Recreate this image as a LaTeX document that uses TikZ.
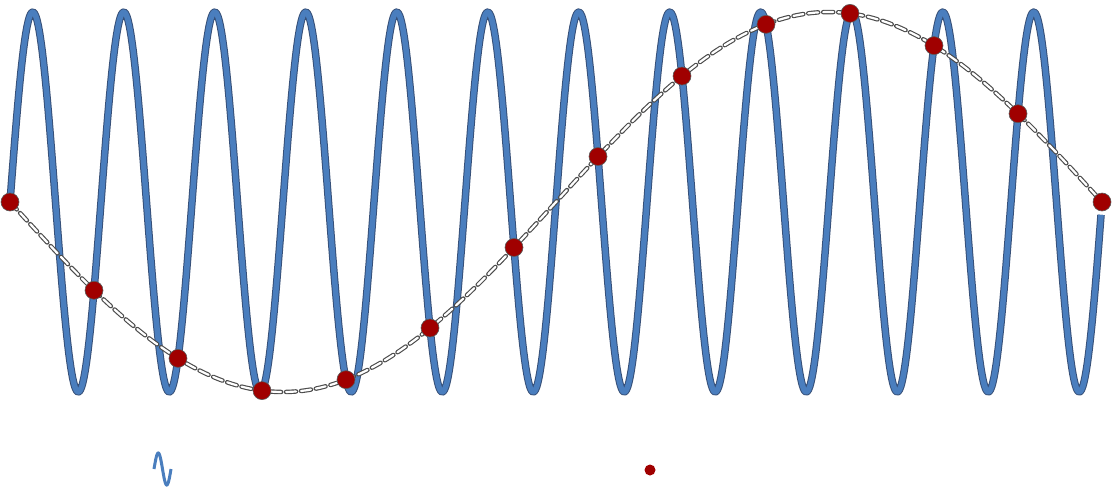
\documentclass[tikz,border=0pt]{standalone}
\usetikzlibrary{calc}
\definecolor{wave}{RGB}{74,126,190}
\definecolor{waveedge}{RGB}{55,80,120}
\definecolor{dotred}{RGB}{160,0,0}
\tikzset{
  sample/.style={circle,fill=dotred,draw=gray!70!black,line width=0.6pt,inner sep=0pt,minimum size=18pt},
  legdot/.style={circle,fill=dotred,inner sep=0pt,minimum size=11pt},
  aliasout/.style={draw=black!70,line width=4.5pt,dash pattern=on 10pt off 5pt,line cap=round},
  aliasin/.style={draw=white,line width=2.2pt,dash pattern=on 10pt off 5pt,line cap=round},
}
\begin{document}
\begin{tikzpicture}[x=1pt,y=-1pt]
\useasboundingbox (0,0) rectangle (1114,490);
% high-frequency signal
\draw[waveedge,line width=7.5pt,line join=round] plot[domain=0:12,samples=900,smooth] ({10+91*\x},{202-190*sin(360*\x)});
\draw[wave,line width=5.5pt,line join=round] plot[domain=0:12,samples=900,smooth] ({10+91*\x},{202-190*sin(360*\x)});
% alias curve
\draw[aliasout] plot[domain=0:1,samples=200,smooth] ({10+1092*\x},{202+190*sin(360*\x)});
\draw[aliasin] plot[domain=0:1,samples=200,smooth] ({10+1092*\x},{202+190*sin(360*\x)});
% samples
\foreach \i in {0,...,13}{
  \pgfmathsetmacro{\sx}{10+84*\i}
  \pgfmathsetmacro{\sy}{202+190*sin(360*\i/13)}
  \node[sample] (s\i) at (\sx,\sy) {};
}
% legend
\draw[wave,line width=3pt] plot[domain=0:1,samples=40,smooth] ({154+17*\x},{469-16*sin(360*\x)});
\node[legdot] (leg) at (650,470) {};
\end{tikzpicture}
\end{document}
